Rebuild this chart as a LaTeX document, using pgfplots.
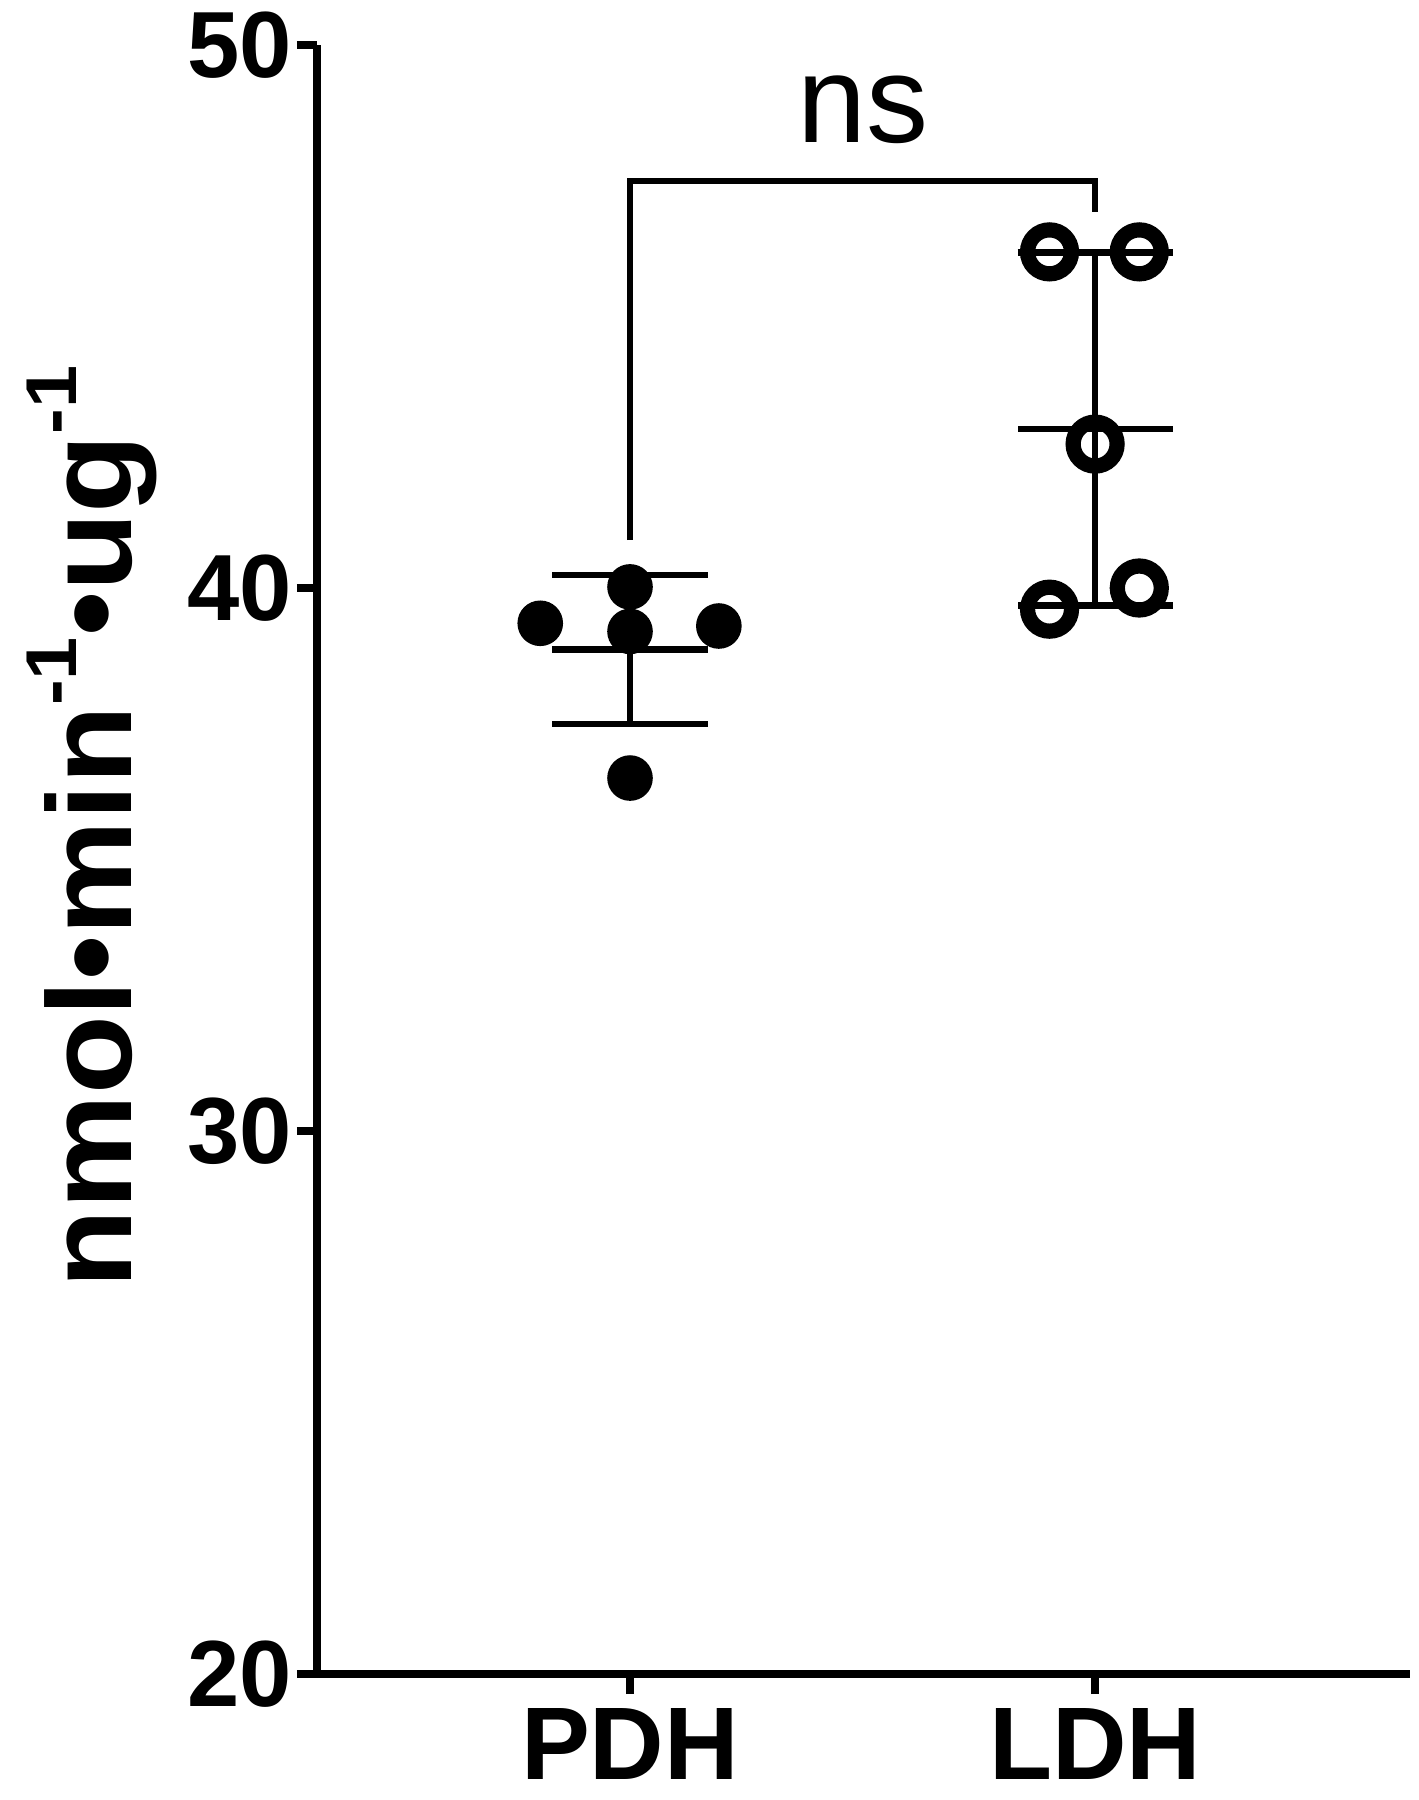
\documentclass[border=0pt]{standalone}
\usepackage{fontspec}
\setmainfont{Liberation Sans}
\usepackage{graphicx}
\usepackage{pgfplots}
\pgfplotsset{compat=1.18}
\newcommand\sups[1]{\raisebox{13.75pt}{\fontsize{18}{18}\selectfont #1}}
\begin{document}
\begin{tikzpicture}
\begin{axis}[
    scale only axis,
    width=273.25pt, height=407.25pt,
    xmin=0.327, xmax=2.677,
    ymin=20, ymax=50,
    axis lines=left,
    axis line style={-, line width=1.9pt},
    clip=false,
    xtick={1,2}, xticklabels={PDH,LDH},
    ytick={20,30,40,50},
    tick align=outside,
    major tick length=5pt,
    tick style={line width=1.9pt, black},
    /pgf/number format/assume math mode=true,
    yticklabel style={font=\fontsize{23.5}{24}\selectfont\bfseries, inner sep=1pt},
    xticklabel style={font=\fontsize{25.8}{26}\selectfont\bfseries},
    ylabel={\scalebox{1.075}[1]{\fontsize{30}{30}\selectfont\bfseries nmol•min\sups{-1}•ug\sups{-1}}},
    ylabel style={at={(rel axis cs:-0.1693,0.52)}, anchor=base},
]

% mean and SD
\addplot[line width=1.6pt, mark=-, mark size=19.4pt,
    error bars/.cd, y dir=both, y explicit, error mark=|,
    error mark options={line width=1.6pt, mark size=19.4pt},
    error bar style={line width=1.6pt}]
    coordinates {(1,38.87) +- (0,1.37)};
\addplot[line width=1.6pt, mark=-, mark size=19.4pt,
    error bars/.cd, y dir=both, y explicit, error mark=|,
    error mark options={line width=1.6pt, mark size=19.4pt},
    error bar style={line width=1.6pt}]
    coordinates {(2,42.93) +- (0,3.25)};

% PDH
\addplot[only marks, mark=*, mark size=5.5pt, mark options={draw=none, fill=black}]
    coordinates {(0.807,39.35) (1,40.02) (1,39.20) (1.191,39.30) (1,36.50)};
% LDH
\addplot[only marks, mark=o, mark size=5.5pt, mark options={line width=3.8pt, draw=black}]
    coordinates {(1.902,46.19) (2.095,46.19) (2,42.65) (1.902,39.61) (2.095,40.00)};

% significance bracket
\addplot[line width=1.6pt, mark=none, line join=miter]
    coordinates {(1,40.88) (1,47.5) (2,47.5) (2,46.92)};
\node[anchor=base, font=\fontsize{31}{31}\selectfont] at (axis cs:1.5,48.2) {ns};
\end{axis}
\path ([shift={(-79.25pt,-31.5pt)}]current axis.south west)
    rectangle ([shift={(2.25pt,11.25pt)}]current axis.north east);
\end{tikzpicture}
\end{document}
